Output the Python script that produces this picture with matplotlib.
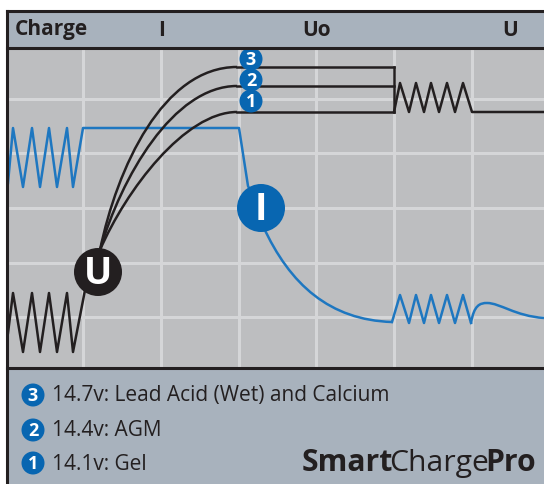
import matplotlib
matplotlib.use("Agg")
from matplotlib import pyplot as plt
from matplotlib.path import Path
from matplotlib.patches import PathPatch, Circle, Rectangle

# colours
DARK = '#231f20'
BLUE = '#1e77c0'
BADGE = '#0866b1'
PANEL = '#a8b2bd'
CHART = '#bdbec0'
GRID = '#d5d6d8'
FONT = 'Open Sans'

# header stage labels (x position, text)
stage_x = [162, 317, 510]
stage_labels = ['I', 'Uo', 'U']

# grid positions
grid_x = [83, 161, 239, 316, 394, 472]
grid_y = [99, 153, 208, 263, 317]

# voltage zigzag (black) at start, and current zigzag (blue)
volt_start_x = [8, 13, 23, 32, 40, 49, 57, 67, 73, 86]
volt_start_y = [333, 293, 352, 293, 352, 293, 352, 293, 352, 285]
curr_start_x = [8, 13, 23, 32, 40, 49, 57, 67, 73, 83, 239, 248, 255]
curr_start_y = [183, 128, 187, 128, 187, 128, 187, 128, 187, 128, 128, 186, 200]

# absorption curves: start, two control points, end
curve_ends = [67, 86, 112]          # 3, 2, 1
curve_ctrl1 = [(117, 168), (121, 178), (126, 190)]
curve_ctrl2 = [(163, 67), (173, 86), (185, 112)]
curve_start = (100, 250)
plateau_end = 394

# float zigzags
float_x = [394, 400, 409, 416, 424, 431, 439, 447, 455, 463, 472, 544]
float_y = [112, 83, 112, 83, 112, 83, 112, 83, 112, 83, 112, 112]
curr_float_x = [392, 400, 409, 416, 424, 431, 439, 447, 455, 463, 471]
curr_float_y = [322, 295, 323, 295, 323, 295, 323, 295, 323, 295, 323]

# blue decay and bump (bezier control points)
decay = [(263, 226), (290, 285), (330, 320), (392, 322)]
bump = [(471, 323), (474, 305), (480, 303), (487, 303),
        (500, 303), (515, 316), (544, 318)]

# legend
legend_nums = ['3', '2', '1']
legend_text = ['14.7v: Lead Acid (Wet) and Calcium', '14.4v: AGM', '14.1v: Gel']
legend_y = [395, 430, 463]

fig = plt.figure(figsize=(5.44, 4.84), dpi=100)
ax = fig.add_axes([0, 0, 1, 1])
ax.set_xlim(0, 544)
ax.set_ylim(484, 0)
ax.axis('off')

# panels
ax.add_patch(Rectangle((7, 11), 540, 37, fc=PANEL, ec='none', zorder=0))
ax.add_patch(Rectangle((7, 48), 540, 320, fc=CHART, ec='none', zorder=0))
ax.add_patch(Rectangle((7, 368), 540, 120, fc=PANEL, ec='none', zorder=0))
for gx in grid_x:
    ax.plot([gx, gx], [48, 368], color=GRID, lw=2.2, zorder=1)
for gy in grid_y:
    ax.plot([7, 544], [gy, gy], color=GRID, lw=2.2, zorder=1)
ax.plot([7, 7], [11, 484], color=DARK, lw=2.2, zorder=6)
for by in [11, 48, 368]:
    ax.plot([7, 544], [by, by], color=DARK, lw=2.2, zorder=6)

# header
ax.text(15, 30, 'Charge', fontsize=15, fontweight='bold', family=FONT,
        color=DARK, va='center', ha='left')
for sx, sl in zip(stage_x, stage_labels):
    ax.text(sx, 30, sl, fontsize=15, fontweight='bold', family=FONT,
            color=DARK, va='center', ha='center')


def bez(points, color):
    codes = [Path.MOVETO] + [Path.CURVE4] * (len(points) - 1)
    ax.add_patch(PathPatch(Path(points, codes), fc='none', ec=color,
                           lw=1.8, zorder=3, joinstyle='round'))


# current (blue)
ax.plot(curr_start_x, curr_start_y, color=BLUE, lw=1.8, zorder=3)
bez(decay, BLUE)
ax.plot(curr_float_x, curr_float_y, color=BLUE, lw=1.8, zorder=3)
bez(bump, BLUE)

# voltage (black)
ax.plot(volt_start_x, volt_start_y, color=DARK, lw=1.8, zorder=3)
for yend, c1, c2 in zip(curve_ends, curve_ctrl1, curve_ctrl2):
    bez([curve_start, c1, c2, (237, yend)], DARK)
    ax.plot([237, plateau_end], [yend, yend], color=DARK, lw=1.8, zorder=3)
ax.plot([plateau_end, plateau_end], [curve_ends[0], curve_ends[-1]],
        color=DARK, lw=1.8, zorder=3)
ax.plot(float_x, float_y, color=DARK, lw=1.8, zorder=3)

# big markers
ax.add_patch(Circle((98, 272), 24, fc=DARK, ec='none', zorder=4))
ax.text(98, 274, 'U', fontsize=27, fontweight='bold', family=FONT,
        color='white', ha='center', va='center', zorder=5)
ax.add_patch(Circle((261, 208), 24, fc=BADGE, ec='none', zorder=4))
ax.text(261, 210, 'I', fontsize=27, fontweight='bold', family=FONT,
        color='white', ha='center', va='center', zorder=5)

# number badges on chart
for num, by in zip(legend_nums, [59, 80, 101]):
    ax.add_patch(Circle((251, by), 11.5, fc=BADGE, ec='none', zorder=4))
    ax.text(251, by + 1, num, fontsize=13, fontweight='bold', family=FONT,
            color='white', ha='center', va='center', zorder=5)

# legend
for num, txt, ly in zip(legend_nums, legend_text, legend_y):
    ax.add_patch(Circle((33, ly), 11.5, fc=BADGE, ec='none', zorder=4))
    ax.text(33, ly + 1, num, fontsize=13, fontweight='bold', family=FONT,
            color='white', ha='center', va='center', zorder=5)
    ax.text(52, ly + 1, txt, fontsize=15, family=FONT, color=DARK,
            ha='left', va='center', zorder=5)

# brand, three pieces set side by side
t1 = ax.text(302, 471, 'Smart', fontsize=21.7, fontweight='bold', family=FONT,
             color=DARK, ha='left', va='baseline')
t2 = ax.annotate('Charge', xy=(1, 0), xycoords=t1, xytext=(-4, 0),
                 textcoords='offset pixels', fontsize=21.7, family=FONT,
                 color=DARK, ha='left', va='bottom')
t3 = ax.annotate('Pro', xy=(1, 0), xycoords=t2, xytext=(-4, 0),
                 textcoords='offset pixels', fontsize=21.7, fontweight='bold',
                 family=FONT, color=DARK, ha='left', va='bottom')

fig.savefig('out.png', dpi=100, facecolor='white')
